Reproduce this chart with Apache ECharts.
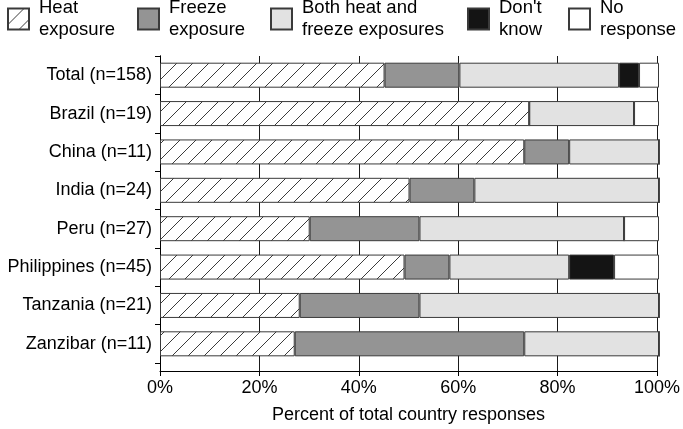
<!DOCTYPE html>
<html>
<head>
<meta charset="utf-8">
<script src="https://cdn.jsdelivr.net/npm/echarts@6/dist/echarts.min.js"></script>
<style>
html,body{margin:0;padding:0;background:#fff;}
#chart{width:683px;height:429px;}
</style>
</head>
<body>
<div id="chart"></div>
<script>
// ---- data ----
const categories = ['Total (n=158)', 'Brazil (n=19)', 'China (n=11)', 'India (n=24)', 'Peru (n=27)', 'Philippines (n=45)', 'Tanzania (n=21)', 'Zanzibar (n=11)'];
const heatExposure = [45, 74, 73, 50, 30, 49, 28, 27];
const freezeExposure = [15, 0, 9, 13, 22, 9, 24, 46];
const bothExposures = [32, 21, 18, 37, 41, 24, 48, 27];
const dontKnow = [4, 0, 0, 0, 0, 9, 0, 0];
const noResponse = [4, 5, 0, 0, 7, 9, 0, 0];
const seriesNames = ['Heat\nexposure', 'Freeze\nexposure', 'Both heat and\nfreeze exposures', "Don't\nknow", 'No\nresponse'];
const xTicks = { min: 0, max: 100, interval: 20 };

// hatch pattern
const pc = document.createElement('canvas');
pc.width = 16; pc.height = 16;
const ctx = pc.getContext('2d');
ctx.fillStyle = '#fff';
ctx.fillRect(0, 0, 16, 16);
ctx.strokeStyle = '#3c3c3c';
ctx.lineWidth = 1;
ctx.beginPath();
ctx.moveTo(-2, 18); ctx.lineTo(18, -2);
ctx.moveTo(-2, 2); ctx.lineTo(2, -2);
ctx.moveTo(14, 18); ctx.lineTo(18, 14);
ctx.stroke();
const hatch = { image: pc, repeat: 'repeat' };

const fills = [hatch, '#949494', '#e2e2e2', '#141414', '#ffffff'];
const dataSets = [heatExposure, freezeExposure, bothExposures, dontKnow, noResponse];
const font = 'Liberation Sans, Arial, Helvetica, sans-serif';
const border = '#3a3a3a';

const chart = echarts.init(document.getElementById('chart'), null, { renderer: 'canvas' });

const legendLefts = [7, 137, 270, 467, 568];
const legends = seriesNames.map((n, i) => ({
  data: [{ name: n, icon: 'rect' }],
  left: legendLefts[i],
  top: -3,
  padding: 0,
  itemWidth: 21,
  itemHeight: 21,
  selectedMode: false,
  textStyle: { fontFamily: font, fontSize: 18.5, lineHeight: 22, color: '#000', padding: [0, 0, 0, 5] }
}));

const series = seriesNames.map((n, i) => ({
  name: n,
  type: 'bar',
  stack: 'all',
  xAxisIndex: 1,
  yAxisIndex: 1,
  barWidth: 25,
  data: dataSets[i],
  itemStyle: { color: fills[i], borderColor: border, borderWidth: 1 },
  emphasis: { disabled: true },
  animation: false
}));

chart.setOption({
  animation: false,
  backgroundColor: '#fff',
  legend: legends,
  grid: [
    { left: 160, right: 24, top: 56, bottom: 56 },
    { left: 160, right: 24, top: 56, bottom: 66 }
  ],
  xAxis: [
    {
      gridIndex: 0, type: 'value', min: xTicks.min, max: xTicks.max, interval: xTicks.interval,
      name: 'Percent of total country responses', nameLocation: 'middle', nameGap: 35,
      nameTextStyle: { fontFamily: font, fontSize: 18, color: '#000' },
      axisLine: { show: true, lineStyle: { color: '#000', width: 1 } },
      axisTick: { show: true, length: 5, lineStyle: { color: '#000' } },
      axisLabel: { formatter: '{value}%', fontFamily: font, fontSize: 18, color: '#000', margin: 8 },
      splitLine: { show: true, lineStyle: { color: '#1a1a1a', width: 1 } }
    },
    {
      gridIndex: 1, type: 'value', min: xTicks.min, max: xTicks.max, interval: xTicks.interval, show: false
    }
  ],
  yAxis: [
    {
      gridIndex: 0, type: 'value', min: 0, max: 1,
      axisLine: { show: true, lineStyle: { color: '#000', width: 1 } },
      axisTick: { show: false }, axisLabel: { show: false }, splitLine: { show: false }
    },
    {
      gridIndex: 1, type: 'category', data: categories, inverse: true,
      axisLine: { show: true, lineStyle: { color: '#000', width: 1 } },
      axisTick: { show: true, length: 5, lineStyle: { color: '#000' } },
      axisLabel: { fontFamily: font, fontSize: 18, color: '#000', margin: 8 },
      splitLine: { show: false }
    }
  ],
  series: series
});
</script>
</body>
</html>
